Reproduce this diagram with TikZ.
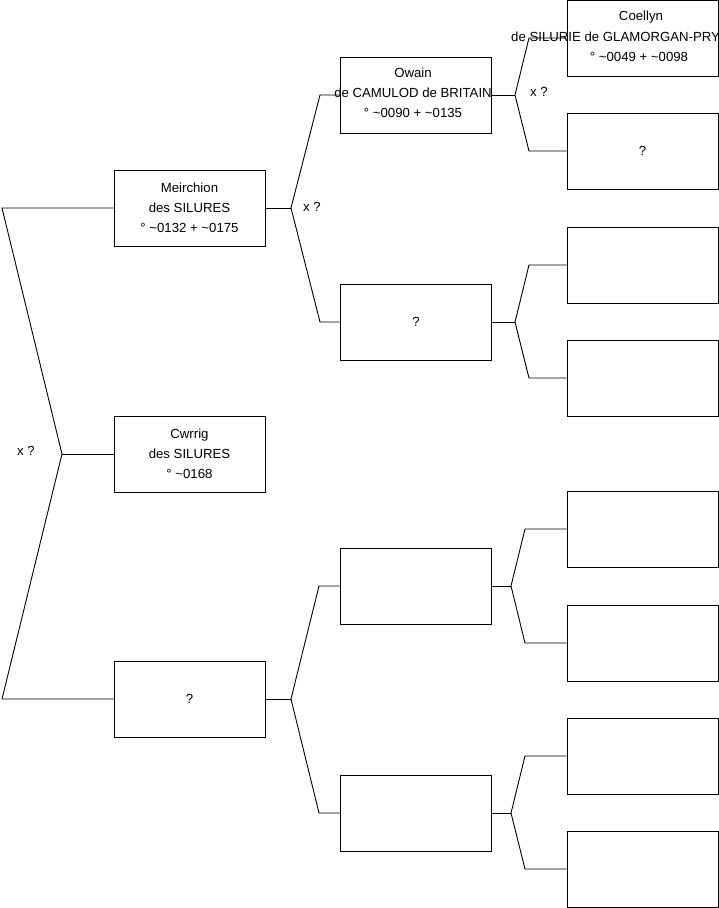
\documentclass[tikz,border=0pt]{standalone}
\usepackage{fontspec}
\setmainfont{Liberation Sans}
\begin{document}
\begin{tikzpicture}[x=1pt,y=-1pt,
  box/.style={draw=black,line width=0.9pt,minimum width=151pt,minimum height=76pt,inner sep=0pt,align=center,font=\fontsize{13.2}{19.8}\selectfont},
  txt/.style={align=center,font=\fontsize{13.2}{19.8}\selectfont,inner sep=0pt},
  lbl/.style={font=\fontsize{13.2}{15}\selectfont,inner sep=0pt},
  con/.style={draw=black,line width=0.9pt}]
\useasboundingbox (0,0) rectangle (719,908);
% generation 1
\node[box] (m1) at (189.5,208) {Meirchion\\des SILURES\\° \textasciitilde0132 + \textasciitilde0175};
\node[box] (c1) at (189.5,454) {Cwrrig\\des SILURES\\° \textasciitilde0168};
\node[box] (q1) at (189.5,699) {?};
% generation 2
\node[box] (o1) at (416,95) {};
\node[box] (q2) at (416,322) {?};
\node[box] (e1) at (416,586) {};
\node[box] (e2) at (416,813) {};
% generation 3
\node[box] (r1) at (642.5,38) {};
\node[box] (r2) at (642.5,151) {?};
\node[box] (r3) at (642.5,265) {};
\node[box] (r4) at (642.5,378) {};
\node[box] (r5) at (642.5,529) {};
\node[box] (r6) at (642.5,643) {};
\node[box] (r7) at (642.5,756) {};
\node[box] (r8) at (642.5,869) {};
% connector points
\coordinate (L1) at (2,208);
\coordinate (V0) at (62,454);
\coordinate (L2) at (2,699);
\coordinate (V1) at (291,208);
\coordinate (A1) at (320,95);
\coordinate (B1) at (320,322);
\coordinate (V2) at (291,699);
\coordinate (A2) at (319,586);
\coordinate (B2) at (319,813);
\coordinate (V3) at (515,95);
\coordinate (A3) at (529,38);
\coordinate (B3) at (529,151);
\coordinate (V4) at (515,322);
\coordinate (A4) at (529,265);
\coordinate (B4) at (529,378);
\coordinate (V5) at (511,586);
\coordinate (A5) at (525,529);
\coordinate (B5) at (525,643);
\coordinate (V6) at (511,813);
\coordinate (A6) at (525,756);
\coordinate (B6) at (525,869);
% connectors
\draw[con] (m1.west) -- (L1) -- (V0) -- (L2) -- (q1.west);
\draw[con] (V0) -- (c1.west);
\draw[con] (m1.east) -- (V1);
\draw[con] (o1.west) -- (A1) -- (V1) -- (B1) -- (q2.west);
\draw[con] (q1.east) -- (V2);
\draw[con] (e1.west) -- (A2) -- (V2) -- (B2) -- (e2.west);
\draw[con] (o1.east) -- (V3);
\draw[con] (r1.west) -- (A3) -- (V3) -- (B3) -- (r2.west);
\draw[con] (q2.east) -- (V4);
\draw[con] (r3.west) -- (A4) -- (V4) -- (B4) -- (r4.west);
\draw[con] (e1.east) -- (V5);
\draw[con] (r5.west) -- (A5) -- (V5) -- (B5) -- (r6.west);
\draw[con] (e2.east) -- (V6);
\draw[con] (r7.west) -- (A6) -- (V6) -- (B6) -- (r8.west);
% overflowing texts (drawn over lines)
\node[txt] (t1) at (413,93) {Owain\\de CAMULOD de BRITAIN\\° \textasciitilde0090 + \textasciitilde0135};
\node[txt] (t2a) at (641,17.5) {Coellyn};
\node[txt,anchor=west] (t2b) at (511,37) {de SILURIE de GLAMORGAN-PRY};
\node[txt] (t2c) at (639,56.5) {° \textasciitilde0049 + \textasciitilde0098};
% labels
\node[lbl] (x1) at (26,451) {x ?};
\node[lbl] (x2) at (312,207) {x ?};
\node[lbl] (x3) at (539,92) {x ?};
\end{tikzpicture}
\end{document}
